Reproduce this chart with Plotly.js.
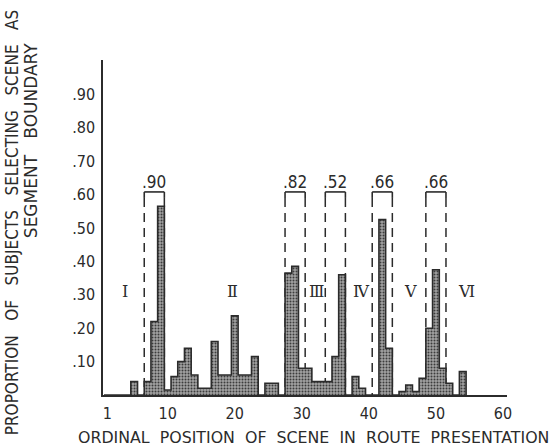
<!DOCTYPE html>
<html>
<head>
<meta charset="utf-8">
<script src="https://cdn.plot.ly/plotly-3.0.1.min.js"></script>
<style>html,body{margin:0;padding:0;background:#fff;}#chart{width:553px;height:447px;}</style>
</head>
<body>
<div id="chart"></div>
<script>
// Data
const scenes = [5,7,8,9,10,11,12,13,14,15,16,17,18,19,20,21,22,23,25,26,28,29,30,31,32,33,34,35,36,38,39,42,43,45,46,47,48,49,50,51,52,54];
const proportions = [0.04,0.04,0.22,0.565,0.015,0.055,0.10,0.14,0.06,0.02,0.02,0.16,0.06,0.06,0.237,0.06,0.06,0.115,0.035,0.035,0.365,0.385,0.08,0.08,0.04,0.04,0.04,0.115,0.36,0.055,0.02,0.525,0.14,0.01,0.03,0.01,0.05,0.20,0.375,0.08,0.035,0.07];
const xTickVals = [1,10,20,30,40,50,60];
const xTickText = ['1','10','20','30','40','50','60'];
const yTickVals = [0.1,0.2,0.3,0.4,0.5,0.6,0.7,0.8,0.9];
const yTickText = ['.10','.20','.30','.40','.50','.60','.70','.80','.90'];
const bracketStart = [6.5,27.5,33.5,40.5,48.5];
const bracketEnd = [9.5,30.5,36.5,43.5,51.5];
const bracketLabels = ['.90','.82','.52','.66','.66'];
const bracketTop = 0.608;
const segmentLabels = ['Ⅰ','Ⅱ','Ⅲ','Ⅳ','Ⅴ','Ⅵ'];
const segmentX = [3.7,19.7,32.2,38.9,46.2,54.6];
const segmentY = 0.31;

const INK = '#2b2b2b';
const FONT = "'DejaVu Sans Condensed', 'Liberation Sans Narrow', sans-serif";
const WIDE = "'DejaVu Sans', sans-serif";
const SP = '\u00a0\u00a0 ';

// step outline built from the bar values
const maxScene = Math.max(...scenes);
const outX = [], outY = [];
for (let s = 1; s <= maxScene; s++) {
  const i = scenes.indexOf(s);
  outX.push(s - 0.5);
  outY.push(i >= 0 ? proportions[i] : 0);
}
outX.push(maxScene + 0.5); outY.push(0);

const bars = {
  type: 'bar', x: scenes, y: proportions, width: 1,
  marker: {color: '#8e8e8e', line: {width: 0},
    pattern: {shape: '.', fgcolor: '#3c3c3c', bgcolor: '#a2a2a2', size: 3, solidity: 0.35}},
  hoverinfo: 'x+y', showlegend: false
};
const outline = {
  type: 'scatter', mode: 'lines', x: outX, y: outY,
  line: {shape: 'hv', color: INK, width: 1.6}, hoverinfo: 'skip', showlegend: false
};

const shapes = [];
const annotations = [];
bracketStart.forEach((x0, i) => {
  const x1 = bracketEnd[i];
  shapes.push({type: 'line', xref: 'x', yref: 'y', x0: x0, x1: x1, y0: bracketTop, y1: bracketTop, line: {color: INK, width: 1.6}, layer: 'above'});
  [x0, x1].forEach(xx => {
    shapes.push({type: 'line', xref: 'x', yref: 'y', x0: xx, x1: xx, y0: bracketTop, y1: bracketTop - 0.018, line: {color: INK, width: 1.6}, layer: 'above'});
    shapes.push({type: 'line', xref: 'x', yref: 'y', x0: xx, x1: xx, y0: bracketTop - 0.018, y1: 0, line: {color: INK, width: 1.5, dash: '9px,6px'}, layer: 'below'});
  });
  annotations.push({xref: 'x', yref: 'y', x: (x0 + x1) / 2, y: bracketTop, text: bracketLabels[i], showarrow: false, yanchor: 'bottom', yshift: -2, font: {family: FONT, size: 17, color: INK}});
});
segmentLabels.forEach((t, i) => {
  annotations.push({xref: 'x', yref: 'y', x: segmentX[i], y: segmentY, text: t, showarrow: false, xanchor: 'center', yanchor: 'middle', font: {family: "'DejaVu Serif', serif", size: 16, color: INK}});
});
annotations.push({xref: 'paper', yref: 'paper', x: -0.225, y: 0.516, xanchor: 'center', yanchor: 'middle',
  text: ['PROPORTION','OF','SUBJECTS','SELECTING','SCENE','AS'].join(SP), textangle: -90, showarrow: false, font: {family: FONT, size: 17, color: INK}});
annotations.push({xref: 'paper', yref: 'paper', x: -0.178, y: 0.758, xanchor: 'center', yanchor: 'middle',
  text: 'SEGMENT' + SP + 'BOUNDARY', textangle: -90, showarrow: false, font: {family: WIDE, size: 17, color: INK}});
annotations.push({xref: 'paper', yref: 'paper', x: 0.52, y: -0.128, xanchor: 'center', yanchor: 'middle',
  text: ['ORDINAL','POSITION','OF','SCENE','IN','ROUTE','PRESENTATION'].join('\u00a0 '), showarrow: false, font: {family: WIDE, size: 15.8, color: INK}});

const layout = {
  width: 553, height: 447,
  margin: {l: 103, r: 46, t: 60, b: 52},
  paper_bgcolor: '#fff', plot_bgcolor: 'rgba(0,0,0,0)',
  bargap: 0,
  font: {family: FONT, color: INK},
  xaxis: {range: [0.35, 60.6], showgrid: false, zeroline: false, showline: true, linecolor: INK, linewidth: 1.6,
    tickvals: xTickVals, ticktext: xTickText, ticks: '', ticklabelstandoff: 3, tickfont: {family: FONT, size: 16, color: INK}},
  yaxis: {range: [0, 1.003], showgrid: false, zeroline: false, showline: true, linecolor: INK, linewidth: 1.6,
    tickvals: yTickVals, ticktext: yTickText, ticks: '', ticklabelstandoff: 3, tickfont: {family: FONT, size: 16, color: INK}},
  shapes: shapes, annotations: annotations
};
Plotly.newPlot('chart', [bars, outline], layout, {displayModeBar: false, staticPlot: true});
</script>
</body>
</html>
